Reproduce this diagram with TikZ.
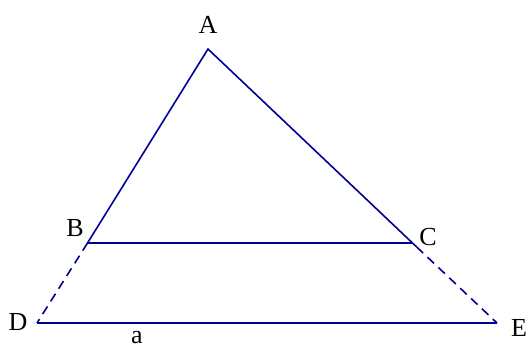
\documentclass[tikz,border=0pt]{standalone}
\usepackage{fontspec}
\setmainfont{Liberation Serif}
\usetikzlibrary{positioning, calc}

\definecolor{navyline}{RGB}{0,0,150}

\begin{document}
\begin{tikzpicture}[
		x=1pt, y=-1pt,
		% Style for the triangle sides
		side/.style={draw=navyline, line width=1.6pt},
		% Style for the extended sides
		ext/.style={draw=navyline, line width=1.6pt, dash pattern=on 9pt off 6pt},
		% Vertex labels
		vlabel/.style={font=\fontsize{26}{30}\selectfont, inner sep=0pt}
		]
		\useasboundingbox (0,0) rectangle (529,349);
		
		% Points
		\coordinate (A) at (208,49);
		\coordinate (B) at (87.5,243);
		\coordinate (C) at (412.5,243);
		\coordinate (D) at (37,323);
		\coordinate (E) at (497,323);
		
		% Labels
		\node[vlabel] (lA) at (208,25) {A};
		\node[vlabel] (lB) at (75,228) {B};
		\node[vlabel] (lC) at (428,237) {C};
		\node[vlabel] (lD) at (18,322) {D};
		\node[vlabel] (lE) at (519,328) {E};
		\node[vlabel] (la) at (137,338) {a};
		
		% Triangle ABC
		\draw[side] (B) -- (A) -- ($(A)!1.02!(C)$);
		\draw[side] (B) -- (C);
		% Extensions to D and E
		\draw[ext] (B) -- (D);
		\draw[ext] ($(A)!1.02!(C)$) -- (E);
		\draw[side] (D) -- (E);
	\end{tikzpicture}
\end{document}
